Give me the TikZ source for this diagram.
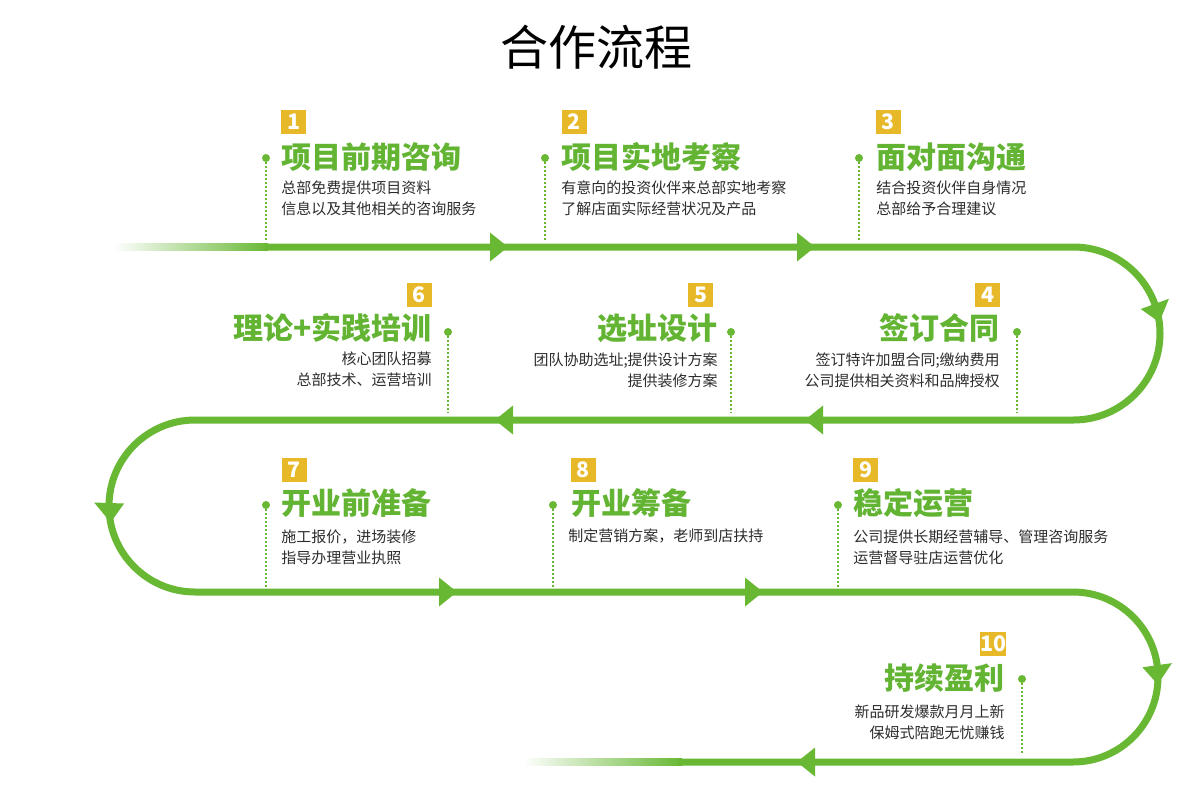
\documentclass[tikz,border=0pt]{standalone}
\usepackage{fontspec}
\setmainfont{Noto Sans CJK SC}
\usetikzlibrary{calc}
\definecolor{trackgreen}{RGB}{104,184,52}
\definecolor{titlegreen}{RGB}{98,180,50}
\definecolor{badgeyellow}{RGB}{231,184,40}
\definecolor{bodygray}{RGB}{45,45,45}
\tikzset{
  track/.style={draw=trackgreen, line width=5.25pt},
  stitle/.style={font=\fontsize{22.5}{27}\selectfont\bfseries, text=titlegreen, inner sep=0pt},
  sbody/.style={font=\fontsize{11.25}{15.75}\selectfont, text=bodygray, inner sep=0pt},
  badge/.style={fill=badgeyellow, text=white, font=\fontsize{16}{16}\selectfont\bfseries, minimum width=18.75pt, minimum height=18pt, inner sep=0pt},
  sdot/.style={circle, fill=trackgreen, minimum size=6pt, inner sep=0pt},
  vdots/.style={draw=trackgreen, line width=1.5pt, dash pattern=on 1.3pt off 1.7pt},
  headtri/.style={fill=trackgreen},
  maintitle/.style={font=\fontsize{36}{40}\selectfont, text=black, inner sep=0pt}
}
\begin{document}
\begin{tikzpicture}[x=0.75pt, y=-0.75pt]
\useasboundingbox (0,0) rectangle (1200,793);
\fill[white] (0,0) rectangle (1200,793);

% main title
\node[maintitle] (title) at (596,47) {合作流程};

% fades
\shade[left color=white, right color=trackgreen] (113,243.5) rectangle (268,250.5);
\shade[left color=white, right color=trackgreen] (523,758.5) rectangle (682,765.5);

% track
\draw[track] (265,247) -- (1073.5,247)
  arc[start angle=-90, end angle=90, radius=86.5] -- (195,420)
  arc[start angle=270, end angle=90, radius=86] -- (1073,592)
  arc[start angle=-90, end angle=90, radius=85] -- (678,762);

% arrowheads on straight parts
\fill[headtri] (490,232.5) -- (508,247) -- (490,261.5) -- cycle;
\fill[headtri] (797,232.5) -- (815,247) -- (797,261.5) -- cycle;
\fill[headtri] (823,405.5) -- (805,420) -- (823,434.5) -- cycle;
\fill[headtri] (513,405.5) -- (495,420) -- (513,434.5) -- cycle;
\fill[headtri] (439,577.5) -- (457,592) -- (439,606.5) -- cycle;
\fill[headtri] (745,577.5) -- (763,592) -- (745,606.5) -- cycle;
\fill[headtri] (815,747.5) -- (797,762) -- (815,776.5) -- cycle;
% arrowheads on arcs
\fill[headtri] (1168.9,298.8) -- (1159.3,322.2) -- (1140.7,309.0) -- cycle;
\fill[headtri] (94.1,502.5) -- (110.6,522.4) -- (124.1,503.5) -- cycle;
\fill[headtri] (1172,663.1) -- (1157.7,684.4) -- (1142.4,667.3) -- cycle;

% ---------- step 1
\node[badge] (b1) at (293.5,122) {1};
\node[stitle, anchor=west] (t1) at (281,157) {项目前期咨询};
\node[sbody, anchor=west, align=left] (x1) at (281,198) {总部免费提供项目资料\\信息以及其他相关的咨询服务};
\node[sdot] (d1) at (266,158) {};
\coordinate (e1) at (266,240);
\draw[vdots] (d1) -- (e1);

% ---------- step 2
\node[badge] (b2) at (574,122) {2};
\node[stitle, anchor=west] (t2) at (561,157) {项目实地考察};
\node[sbody, anchor=west, align=left] (x2) at (561,198) {有意向的投资伙伴来总部实地考察\\了解店面实际经营状况及产品};
\node[sdot] (d2) at (545,158) {};
\coordinate (e2) at (545,240);
\draw[vdots] (d2) -- (e2);

% ---------- step 3
\node[badge] (b3) at (888,122) {3};
\node[stitle, anchor=west] (t3) at (876,157) {面对面沟通};
\node[sbody, anchor=west, align=left] (x3) at (876,198) {结合投资伙伴自身情况\\总部给予合理建议};
\node[sdot] (d3) at (859,158) {};
\coordinate (e3) at (859,240);
\draw[vdots] (d3) -- (e3);

% ---------- step 4
\node[badge] (b4) at (987.5,295) {4};
\node[stitle, anchor=east] (t4) at (1000,328) {签订合同};
\node[sbody, anchor=east, align=right] (x4) at (1000,370) {签订特许加盟合同;缴纳费用\\公司提供相关资料和品牌授权};
\node[sdot] (d4) at (1017,332) {};
\coordinate (e4) at (1017,413);
\draw[vdots] (d4) -- (e4);

% ---------- step 5
\node[badge] (b5) at (700.5,295) {5};
\node[stitle, anchor=east] (t5) at (718,328) {选址设计};
\node[sbody, anchor=east, align=right] (x5) at (718,370) {团队协助选址;提供设计方案\\提供装修方案};
\node[sdot] (d5) at (731,332) {};
\coordinate (e5) at (731,413);
\draw[vdots] (d5) -- (e5);

% ---------- step 6
\node[badge] (b6) at (419,295) {6};
\node[stitle, anchor=east] (t6) at (432,328) {理论+实践培训};
\node[sbody, anchor=east, align=right] (x6) at (432,369) {核心团队招募\\总部技术、运营培训};
\node[sdot] (d6) at (448,332) {};
\coordinate (e6) at (448,413);
\draw[vdots] (d6) -- (e6);

% ---------- step 7
\node[badge] (b7) at (294,470) {7};
\node[stitle, anchor=west] (t7) at (281,503) {开业前准备};
\node[sbody, anchor=west, align=left] (x7) at (281,547) {施工报价，进场装修\\指导办理营业执照};
\node[sdot] (d7) at (266,505) {};
\coordinate (e7) at (266,587);
\draw[vdots] (d7) -- (e7);

% ---------- step 8
\node[badge] (b8) at (583,470) {8};
\node[stitle, anchor=west] (t8) at (571,503) {开业筹备};
\node[sbody, anchor=west, align=left] (x8) at (568,536) {制定营销方案，老师到店扶持};
\node[sdot] (d8) at (553,505) {};
\coordinate (e8) at (553,587);
\draw[vdots] (d8) -- (e8);

% ---------- step 9
\node[badge] (b9) at (865.5,470) {9};
\node[stitle, anchor=west] (t9) at (853,503) {稳定运营};
\node[sbody, anchor=west, align=left] (x9) at (853,547) {公司提供长期经营辅导、管理咨询服务\\运营督导驻店运营优化};
\node[sdot] (d9) at (838,505) {};
\coordinate (e9) at (838,587);
\draw[vdots] (d9) -- (e9);

% ---------- step 10
\node[badge, minimum width=20pt] (b10) at (993,644) {10};
\node[stitle, anchor=east] (t10) at (1005,678) {持续盈利};
\node[sbody, anchor=east, align=right] (x10) at (1005,722) {新品研发爆款月月上新\\保姆式陪跑无忧赚钱};
\node[sdot] (d10) at (1022,679) {};
\coordinate (e10) at (1022,755);
\draw[vdots] (d10) -- (e10);
\end{tikzpicture}
\end{document}
